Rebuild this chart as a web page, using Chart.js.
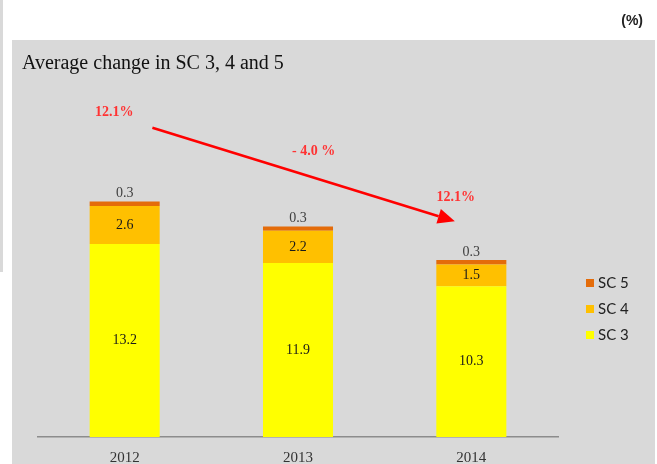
<!DOCTYPE html>
<html>
<head>
<meta charset="utf-8">
<script src="https://cdn.jsdelivr.net/npm/chart.js@4"></script>
<style>
  body { margin: 0; background: #fff; }
  #grafica { display: block; }
</style>
</head>
<body>
<canvas id="grafica" width="657" height="464"></canvas>
<script>
// Datos del gráfico
const years = ["2012", "2013", "2014"];
const seriesNames = ["SC 3", "SC 4", "SC 5"];
const sc3 = [13.2, 11.9, 10.3];
const sc4 = [2.6, 2.2, 1.5];
const sc5 = [0.3, 0.3, 0.3];
const changeLabels = ["12.1%", "- 4.0 %", "12.1%"];
const chartTitle = "Average change in SC 3, 4 and 5";
const unitLabel = "(%)";

const colors = ["#FFFF00", "#FFC000", "#E46C0A"];
const serif = "'Liberation Serif', 'DejaVu Serif', serif";

// Anotaciones (posicion en unidades de las escalas: indice de categoria, valor)
const notes = [
  { text: changeLabels[0], x: -0.06, y: 22.2 },
  { text: changeLabels[1], x: 1.09, y: 19.5 },
  { text: changeLabels[2], x: 1.91, y: 16.4 },
];
const arrow = { x1: 0.16, y1: 21.15, x2: 1.905, y2: 14.75 };

// Fondo: panel gris y franja a la izquierda
const fondo = {
  id: "fondo",
  beforeDraw(chart) {
    const ctx = chart.ctx;
    ctx.save();
    ctx.fillStyle = "#ffffff";
    ctx.fillRect(0, 0, chart.width, chart.height);
    ctx.fillStyle = "#D9D9D9";
    ctx.fillRect(0, 0, 3, 272);
    ctx.fillRect(12, 40, chart.width - 14, chart.height - 40);
    ctx.restore();
  },
};

// Textos, etiquetas, flecha y leyenda
const extras = {
  id: "extras",
  afterDraw(chart) {
    const ctx = chart.ctx;
    const xs = chart.scales.x;
    const ys = chart.scales.y;
    ctx.save();

    // titulo
    ctx.fillStyle = "#111";
    ctx.font = "20px " + serif;
    ctx.textAlign = "left";
    ctx.textBaseline = "alphabetic";
    ctx.fillText(chartTitle, 22, 69);

    // unidad
    ctx.font = "bold 14px 'Liberation Sans', Arial, sans-serif";
    ctx.fillStyle = "#222";
    ctx.textAlign = "right";
    ctx.fillText(unitLabel, 643, 25);

    // etiquetas de valores
    ctx.textAlign = "center";
    ctx.textBaseline = "middle";
    chart.data.datasets.forEach((ds, di) => {
      const meta = chart.getDatasetMeta(di);
      meta.data.forEach((bar, i) => {
        const v = ds.data[i];
        ctx.font = "14px " + serif;
        if (di === 2) {
          ctx.fillStyle = "#404040";
          ctx.fillText(v.toFixed(1), bar.x, bar.y - 8);
        } else {
          ctx.fillStyle = "#1a1a1a";
          ctx.fillText(v.toFixed(1), bar.x, (bar.y + bar.base) / 2);
        }
      });
    });

    // flecha
    const x1 = xs.getPixelForValue(arrow.x1), y1 = ys.getPixelForValue(arrow.y1);
    const x2 = xs.getPixelForValue(arrow.x2), y2 = ys.getPixelForValue(arrow.y2);
    const ang = Math.atan2(y2 - y1, x2 - x1);
    const head = 17, half = 7.5;
    ctx.strokeStyle = "#FF0000";
    ctx.fillStyle = "#FF0000";
    ctx.lineWidth = 2.5;
    ctx.beginPath();
    ctx.moveTo(x1, y1);
    ctx.lineTo(x2 - head * Math.cos(ang), y2 - head * Math.sin(ang));
    ctx.stroke();
    ctx.beginPath();
    ctx.moveTo(x2, y2);
    ctx.lineTo(x2 - head * Math.cos(ang) + half * Math.sin(ang), y2 - head * Math.sin(ang) - half * Math.cos(ang));
    ctx.lineTo(x2 - head * Math.cos(ang) - half * Math.sin(ang), y2 - head * Math.sin(ang) + half * Math.cos(ang));
    ctx.closePath();
    ctx.fill();

    // textos rojos
    ctx.fillStyle = "#FF3333";
    ctx.font = "bold 14px " + serif;
    notes.forEach((n) => {
      ctx.fillText(n.text, xs.getPixelForValue(n.x), ys.getPixelForValue(n.y));
    });

    // leyenda
    ctx.textAlign = "left";
    ctx.font = "15px Lato, 'Liberation Sans', sans-serif";
    const orden = [2, 1, 0];
    orden.forEach((di, k) => {
      const cy = 283 + k * 26;
      ctx.fillStyle = colors[di];
      ctx.fillRect(586, cy - 4, 8, 8);
      ctx.fillStyle = "#222";
      ctx.fillText(seriesNames[di], 598, cy);
    });

    ctx.restore();
  },
};

const datos = [sc3, sc4, sc5];

new Chart(document.getElementById("grafica").getContext("2d"), {
  type: "bar",
  data: {
    labels: years,
    datasets: seriesNames.map((name, i) => ({
      label: name,
      data: datos[i],
      backgroundColor: colors[i],
      borderWidth: 0,
      barPercentage: 0.404,
      categoryPercentage: 1,
    })),
  },
  options: {
    responsive: false,
    animation: false,
    layout: { padding: { left: 38, right: 99, top: 86, bottom: -15 } },
    plugins: {
      legend: { display: false },
      title: { display: false },
      tooltip: { enabled: false },
    },
    scales: {
      x: {
        stacked: true,
        grid: { display: false, drawTicks: false },
        border: { display: true, color: "#8c8c8c", width: 1.5 },
        ticks: { color: "#333", font: { family: serif, size: 15 }, padding: 12 },
      },
      y: {
        stacked: true,
        display: false,
        min: 0,
        max: 24,
      },
    },
  },
  plugins: [fondo, extras],
});
</script>
</body>
</html>
